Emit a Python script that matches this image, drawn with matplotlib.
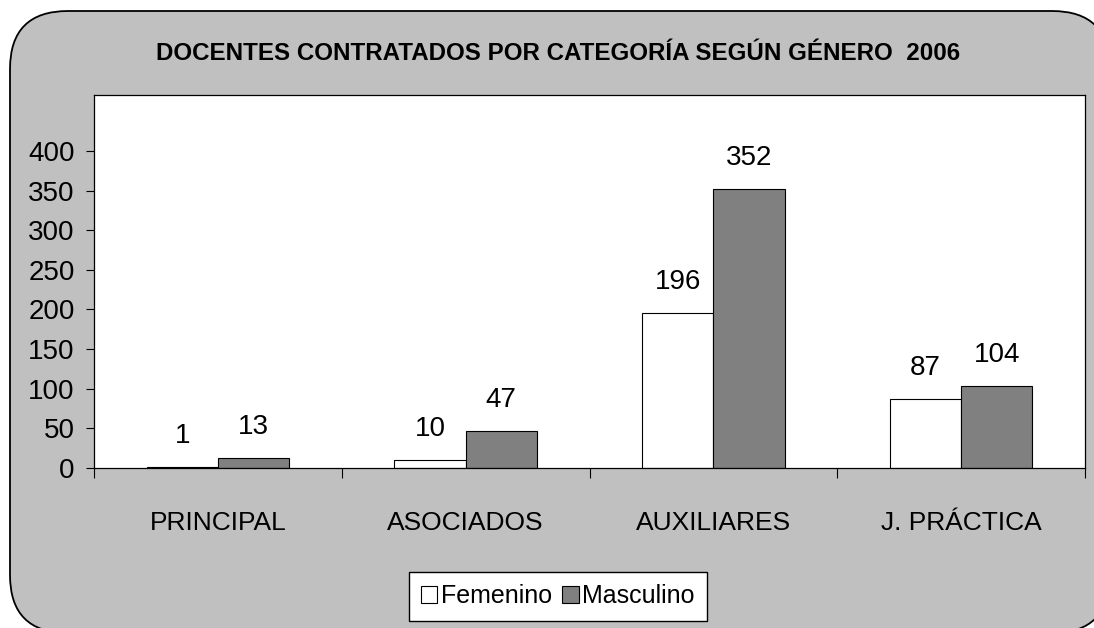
import matplotlib
matplotlib.use("Agg")
import matplotlib.pyplot as plt
from matplotlib.patches import FancyBboxPatch
import numpy as np

categories = ["PRINCIPAL", "ASOCIADOS", "AUXILIARES", "J. PRÁCTICA"]
femenino = [1, 10, 196, 87]
masculino = [13, 47, 352, 104]
yticks = [0, 50, 100, 150, 200, 250, 300, 350, 400]
title = "DOCENTES CONTRATADOS POR CATEGORÍA SEGÚN GÉNERO  2006"

plt.rcParams['font.family'] = ['Liberation Sans Narrow', 'Liberation Sans', 'DejaVu Sans']
fs = 19

fig = plt.figure(figsize=(10.94, 6.28), dpi=100)
fig.patch.set_facecolor("white")

# rounded grey background (in pixel coordinates)
bg = FancyBboxPatch((10, -5), 1100, 628 - 11 + 5,
                    boxstyle="round,pad=0,rounding_size=58",
                    transform=None, facecolor="#C0C0C0", edgecolor="black",
                    linewidth=1.3, zorder=-5)
fig.patches.append(bg)

ax = fig.add_axes([94 / 1094, 1 - 468 / 628, (1085 - 94) / 1094, (468 - 95) / 628])
ax.set_zorder(2)
ax.set_facecolor("white")

x = np.arange(len(categories))
w = 0.288
b1 = ax.bar(x - w / 2, femenino, w, color="white", edgecolor="black", linewidth=0.8, label="Femenino")
b2 = ax.bar(x + w / 2, masculino, w, color="#808080", edgecolor="black", linewidth=0.8, label="Masculino")
ax.bar_label(b1, padding=13, fontsize=fs + 1)
ax.bar_label(b2, padding=13, fontsize=fs + 1)

ax.set_xlim(-0.5, len(categories) - 0.5)
ax.set_ylim(0, 470.6)
ax.set_yticks(yticks)
ax.tick_params(axis="y", labelsize=fs + 1, length=6, width=0.8, pad=8, direction="out")
ax.set_xticks(x)
ax.set_xticklabels(categories)
ax.tick_params(axis="x", which="major", length=0, labelsize=fs, pad=31)
ax.set_xticks(np.arange(len(categories) + 1) - 0.5, minor=True)
ax.tick_params(axis="x", which="minor", length=7, width=0.8, direction="out")
for s in ax.spines.values():
    s.set_linewidth(0.9)
    s.set_color("black")

ax.set_title(title, fontsize=17.4, fontweight="bold", x=(558 - 94) / (1085 - 94), y=1.0, pad=25)

fig.legend(handles=[b1, b2], loc="center", bbox_to_anchor=(558 / 1094, 1 - 596 / 628),
           ncol=2, fontsize=18, frameon=True, fancybox=False, edgecolor="black",
           framealpha=1, handlelength=0.65, handleheight=0.65, handletextpad=0.15,
           columnspacing=0.4, borderpad=0.5, borderaxespad=0)

fig.savefig("out.png", dpi=100, facecolor=fig.get_facecolor())
